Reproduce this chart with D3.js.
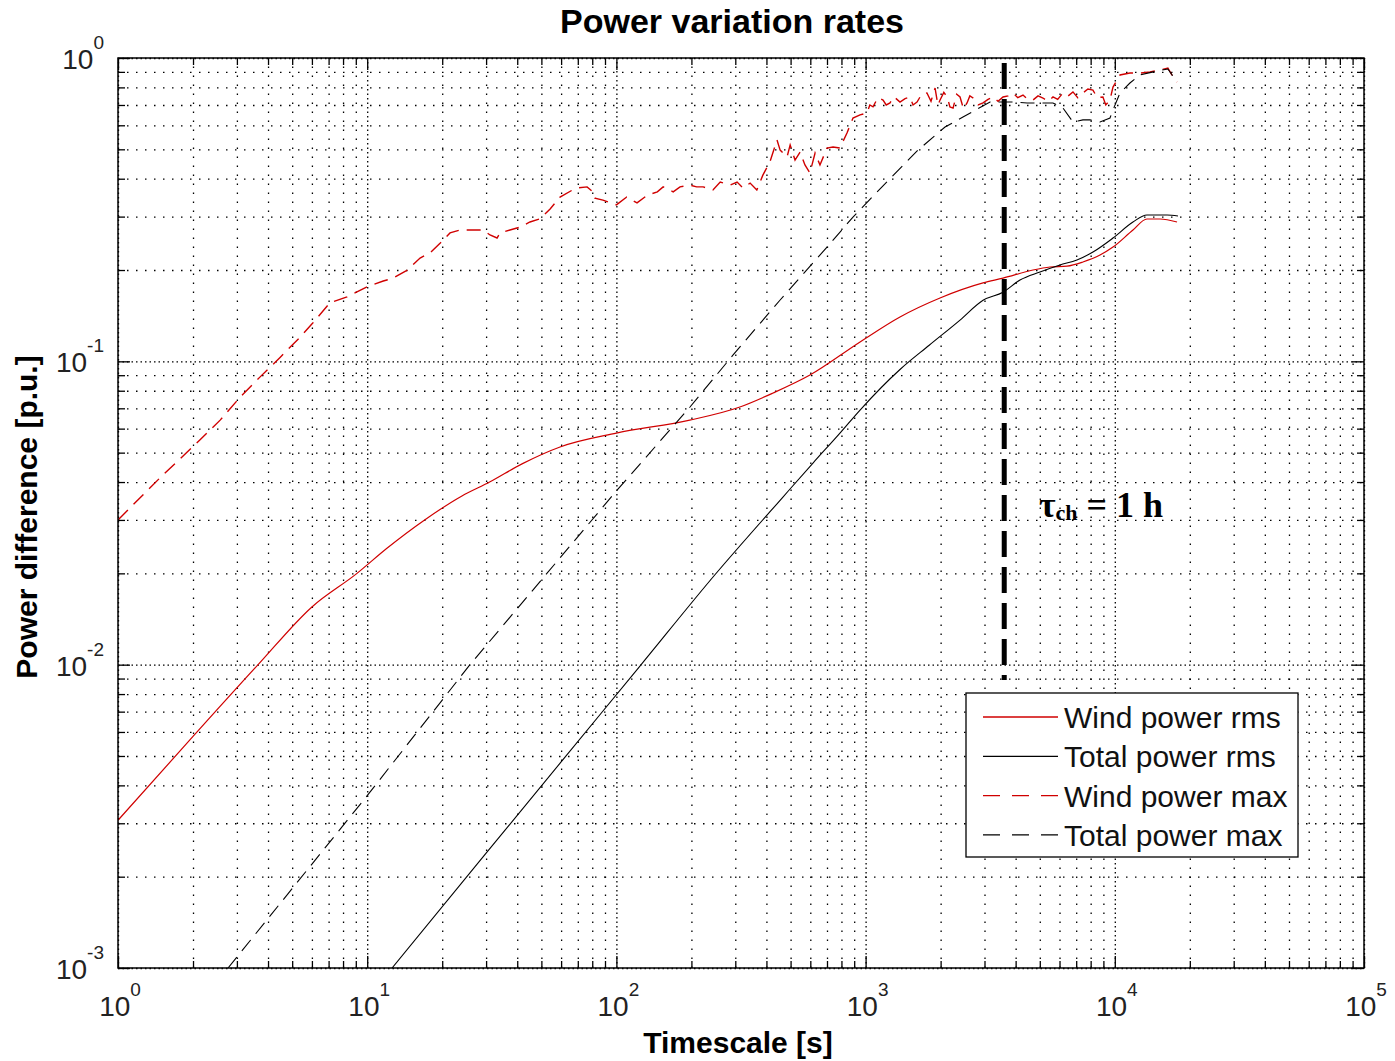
<!DOCTYPE html>
<html>
<head>
<meta charset="utf-8">
<script src="https://cdn.jsdelivr.net/npm/d3@7"></script>
<style>
  body { margin: 0; background: #fff; }
  svg { display: block; font-family: Arial, "Liberation Sans", sans-serif; }
</style>
</head>
<body>
<svg id="chart" width="1395" height="1061"></svg>
<script>
// ---- data: [timescale s, power difference p.u.] ----
var windRms = [
  [1, 0.00307], [2, 0.0058], [3.65, 0.0100], [6, 0.0155], [9.1, 0.0200], [12, 0.0242],
  [17, 0.0300], [24, 0.0360], [31, 0.0400], [42, 0.0460], [59.4, 0.0522], [100, 0.058],
  [197, 0.064], [313, 0.0707], [425, 0.0786], [598, 0.0901], [950, 0.1158], [1374, 0.140],
  [1989, 0.1617], [2960, 0.1813], [3560, 0.188], [4695, 0.200], [5495, 0.2046], [6430, 0.206],
  [7450, 0.2126], [8723, 0.224], [9834, 0.238], [11830, 0.271], [13460, 0.2946],
  [15190, 0.2946], [17770, 0.288]
];

var totalRms = [
  [12.58, 0.001], [30, 0.00239], [60, 0.00478], [125, 0.00995], [250, 0.0199], [466, 0.0357],
  [615, 0.0462], [789, 0.058], [950, 0.0691], [1374, 0.094], [1800, 0.113], [2393, 0.1368],
  [2960, 0.159], [3560, 0.169], [4165, 0.1854], [5010, 0.197], [6026, 0.2078], [7048, 0.2158],
  [8175, 0.2293], [9835, 0.255], [11830, 0.2879], [13460, 0.3037], [16200, 0.3037], [17930, 0.3013]
];

var windMax = [
  [1, 0.030], [1.47, 0.0412], [2.13, 0.055], [2.57, 0.064], [3.09, 0.0762], [3.71, 0.0887],
  [4.47, 0.103], [5.37, 0.120], [6.06, 0.134], [7.09, 0.156], [8.3, 0.163], [10, 0.176],
  [11.6, 0.184], [12.7, 0.188], [14.5, 0.200], [16.3, 0.219], [17.9, 0.228], [19.6, 0.245],
  [21.5, 0.265], [23.6, 0.271], [25.9, 0.271], [29.2, 0.271], [31.1, 0.261], [33.2, 0.255],
  [34.1, 0.265], [37.4, 0.271], [41, 0.277], [45, 0.288], [49.4, 0.295], [54.2, 0.318],
  [59.4, 0.348], [67, 0.368], [69.5, 0.373], [76.3, 0.376], [80.5, 0.362], [82, 0.345],
  [88.3, 0.340], [100, 0.328], [110, 0.348], [121, 0.333], [133, 0.353], [146, 0.362],
  [154, 0.376], [169, 0.362], [180, 0.376], [197, 0.381], [210, 0.376], [223, 0.376],
  [244, 0.367], [261, 0.390], [286, 0.381], [305, 0.390], [322, 0.373], [344, 0.387],
  [366, 0.367], [387, 0.411], [413, 0.454], [441, 0.537], [454, 0.497], [484, 0.472],
  [498, 0.517], [521, 0.461], [546, 0.490], [571, 0.444], [598, 0.418], [627, 0.486],
  [656, 0.444], [700, 0.505], [740, 0.509], [789, 0.505], [842, 0.566], [890, 0.634],
  [950, 0.649], [1013, 0.659], [1040, 0.700], [1071, 0.690], [1120, 0.740], [1175, 0.727],
  [1210, 0.700], [1253, 0.711], [1300, 0.745], [1374, 0.716], [1440, 0.735], [1507, 0.744],
  [1550, 0.700], [1608, 0.716], [1680, 0.760], [1763, 0.767], [1830, 0.720], [1900, 0.796],
  [1950, 0.700], [1990, 0.727], [2060, 0.770], [2124, 0.744], [2180, 0.690], [2244, 0.684],
  [2320, 0.760], [2393, 0.744], [2470, 0.680], [2553, 0.711], [2620, 0.750], [2699, 0.738],
  [2830, 0.700], [2960, 0.711], [3100, 0.730], [3246, 0.744], [3400, 0.720], [3560, 0.744],
  [3730, 0.750], [3905, 0.767], [4080, 0.740], [4282, 0.755], [4480, 0.730], [4696, 0.727],
  [4920, 0.750], [5150, 0.738], [5400, 0.720], [5648, 0.744], [5900, 0.730], [6194, 0.767],
  [6500, 0.750], [6793, 0.773], [7100, 0.740], [7449, 0.767], [7800, 0.790], [8170, 0.784],
  [8500, 0.740], [8960, 0.744], [9200, 0.700], [9565, 0.727], [9834, 0.802], [10490, 0.879],
  [11500, 0.892], [12620, 0.892], [13840, 0.899], [15180, 0.913], [16330, 0.927],
  [17130, 0.866], [17770, 0.833]
];

var totalMax = [
  [2.764, 0.001], [10, 0.0037], [25.85, 0.01], [100.6, 0.0376], [197.4, 0.0707], [294, 0.105],
  [453, 0.159], [700, 0.238], [890, 0.299], [1164, 0.376], [1623, 0.497], [2083, 0.592],
  [2459, 0.639], [3157, 0.716], [3560, 0.716], [3905, 0.716], [4446, 0.711], [5012, 0.711],
  [5648, 0.711], [6194, 0.684], [6793, 0.615], [7449, 0.625], [7954, 0.625], [8723, 0.615],
  [9565, 0.634], [9834, 0.674], [10490, 0.767], [11500, 0.827], [12620, 0.880],
  [13840, 0.895], [15180, 0.910], [16330, 0.920], [17130, 0.870], [17770, 0.835]
];

var xTickExps = [0, 1, 2, 3, 4, 5];
var yTickExps = [-3, -2, -1, 0];
var legendLabels = ['Wind power rms', 'Total power rms', 'Wind power max', 'Total power max'];
var charTime = 3600;   // tau_ch = 1 h

// ---- layout ----
var svg = d3.select('#chart');
var pL = 118, pR = 1364, pT = 58, pB = 968;   // plot box
var RED = '#d00000';

var x = d3.scaleLog().domain([1, 1e5]).range([pL, pR]);
var y = d3.scaleLog().domain([1e-3, 1]).range([pB, pT]);

function decades(exps) { return exps.map(function(e){ return Math.pow(10, e); }); }
function minors(major) {
  var out = [];
  for (var i = 0; i < major.length - 1; i++)
    for (var k = 2; k <= 9; k++) out.push(k * major[i]);
  return out;
}
var xMajor = decades(xTickExps), xMinor = minors(xMajor);
var yMajor = decades(yTickExps), yMinor = minors(yMajor);

// dotted grid (minor everywhere, major again with offset so decades look denser)
function grid(axisFn, vals, size, tr, off) {
  svg.append('g').attr('transform', tr)
    .call(axisFn.tickValues(vals).tickSize(-size).tickFormat(''))
    .call(function(g){ g.select('.domain').remove(); })
    .selectAll('line')
      .attr('stroke', '#000').attr('stroke-width', 1.3)
      .attr('stroke-dasharray', '1.5,7.5').attr('stroke-dashoffset', off);
}
grid(d3.axisBottom(x), xMinor.concat(xMajor), pB - pT, 'translate(0,' + pB + ')', 0);
grid(d3.axisBottom(x), xMajor, pB - pT, 'translate(0,' + pB + ')', 4.5);
grid(d3.axisLeft(y), yMinor.concat(yMajor), pR - pL, 'translate(' + pL + ',0)', 0);
grid(d3.axisLeft(y), yMajor, pR - pL, 'translate(' + pL + ',0)', 4.5);

// curves (rms curves are smooth, max curves keep their jaggedness)
svg.append('clipPath').attr('id', 'plotclip')
  .append('rect').attr('x', pL).attr('y', pT).attr('width', pR - pL).attr('height', pB - pT);

var line = d3.line().x(function(d){ return x(d[0]); }).y(function(d){ return y(d[1]); });
var smooth = d3.line().curve(d3.curveMonotoneX)
  .x(function(d){ return x(d[0]); }).y(function(d){ return y(d[1]); });
var series = [
  { data: windRms,  color: RED,    dash: null,   w: 1.2, gen: smooth },
  { data: totalRms, color: '#000', dash: null,   w: 1.1, gen: smooth },
  { data: windMax,  color: RED,    dash: '14,8', w: 1.4, gen: line },
  { data: totalMax, color: '#000', dash: '14,8', w: 1.1, gen: line }
];
var plot = svg.append('g').attr('clip-path', 'url(#plotclip)');
series.forEach(function(s){
  plot.append('path').datum(s.data)
    .attr('d', s.gen).attr('fill', 'none')
    .attr('stroke', s.color).attr('stroke-width', s.w)
    .attr('stroke-dasharray', s.dash);
});

// inward ticks on all four sides
function ticks(axisFn, vals, len, tr) {
  svg.append('g').attr('transform', tr)
    .call(axisFn.tickValues(vals).tickSize(-len).tickFormat(''))
    .call(function(g){ g.select('.domain').remove(); })
    .selectAll('line').attr('stroke', '#000').attr('stroke-width', 1.3);
}
ticks(d3.axisBottom(x), xMinor, 7, 'translate(0,' + pB + ')');
ticks(d3.axisBottom(x), xMajor, 12, 'translate(0,' + pB + ')');
ticks(d3.axisTop(x), xMinor, 7, 'translate(0,' + pT + ')');
ticks(d3.axisTop(x), xMajor, 12, 'translate(0,' + pT + ')');
ticks(d3.axisLeft(y), yMinor, 7, 'translate(' + pL + ',0)');
ticks(d3.axisLeft(y), yMajor, 12, 'translate(' + pL + ',0)');
ticks(d3.axisRight(y), yMinor, 7, 'translate(' + pR + ',0)');
ticks(d3.axisRight(y), yMajor, 12, 'translate(' + pR + ',0)');

svg.append('rect').attr('x', pL).attr('y', pT)
  .attr('width', pR - pL).attr('height', pB - pT)
  .attr('fill', 'none').attr('stroke', '#000').attr('stroke-width', 1.5);

// tick labels "10^n"
function powLabel(sel, e) {
  sel.append('tspan').text('10');
  sel.append('tspan').attr('dy', -20).attr('font-size', 19).text(String(e));
}
xTickExps.forEach(function(e){
  svg.append('text').attr('x', x(Math.pow(10, e)) + 2).attr('y', 1016)
    .attr('text-anchor', 'middle').attr('font-size', 28).attr('fill', '#222')
    .call(powLabel, e);
});
yTickExps.forEach(function(e){
  svg.append('text').attr('x', 104).attr('y', y(Math.pow(10, e)) + 11)
    .attr('text-anchor', 'end').attr('font-size', 28).attr('fill', '#222')
    .call(powLabel, e);
});

// titles
svg.append('text').attr('x', 732).attr('y', 33).attr('text-anchor', 'middle')
  .attr('font-size', 34).attr('font-weight', 'bold').text('Power variation rates');
svg.append('text').attr('x', 738).attr('y', 1053).attr('text-anchor', 'middle')
  .attr('font-size', 30).attr('font-weight', 'bold').text('Timescale [s]');
svg.append('text').attr('transform', 'translate(37,517) rotate(-90)').attr('text-anchor', 'middle')
  .attr('font-size', 30).attr('font-weight', 'bold').text('Power difference [p.u.]');

// characteristic time marker
svg.append('line')
  .attr('x1', x(charTime)).attr('x2', x(charTime))
  .attr('y1', pT + 5).attr('y2', y(0.0089))
  .attr('stroke', '#000').attr('stroke-width', 5).attr('stroke-dasharray', '26,10');

var ann = svg.append('text').attr('x', 1039).attr('y', 517)
  .attr('font-family', '"Liberation Serif", "Times New Roman", serif')
  .attr('font-weight', 'bold').attr('font-size', 36);
ann.append('tspan').text('\u03c4');
ann.append('tspan').attr('font-size', 22).attr('dy', 3).text('ch');
ann.append('tspan').attr('dy', -3).text(' = 1 h');

// legend
var lg = svg.append('g');
lg.append('rect').attr('x', 966).attr('y', 693).attr('width', 332).attr('height', 164)
  .attr('fill', '#fff').attr('stroke', '#000').attr('stroke-width', 1.3);
series.forEach(function(s, i){
  var cy = 717 + i * 39.3;
  lg.append('line').attr('x1', 983).attr('x2', 1058).attr('y1', cy).attr('y2', cy)
    .attr('stroke', s.color).attr('stroke-width', 1.3)
    .attr('stroke-dasharray', s.dash ? '17,12' : null);
  lg.append('text').attr('x', 1064).attr('y', cy + 11)
    .attr('font-size', 30).attr('fill', '#111').text(legendLabels[i]);
});
</script>
</body>
</html>
